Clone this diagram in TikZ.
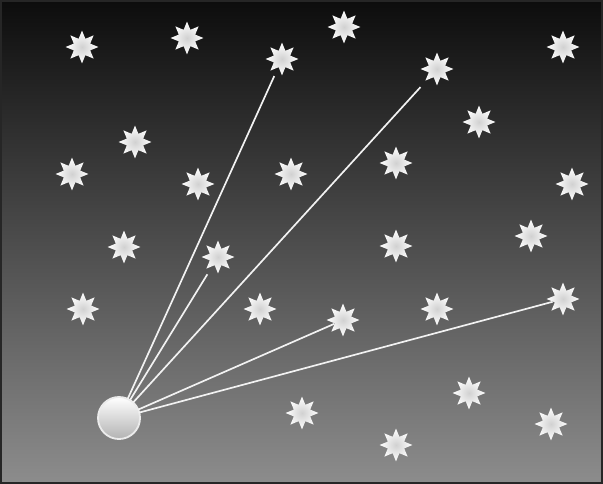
\documentclass[tikz,border=0pt]{standalone}
\usepackage{tikz}
\usetikzlibrary{shapes.geometric, arrows.meta, positioning}
\tikzset{
  sky/.style={draw=black!85, line width=1.2pt, top color=black!95, bottom color=black!45},
  sun/.style={star, star points=8, star point ratio=1.85, minimum size=0.82cm, inner sep=0pt, shading=radial, inner color=black!18, outer color=white},
  observer/.style={circle, minimum size=1.05cm, inner sep=0pt, draw=white!92!black, line width=1.3pt, top color=white, bottom color=black!30},
  ray/.style={draw=white!95!black, line width=1.2pt, shorten <=-1pt},
  farray/.style={ray, shorten >=6.5pt}
}

\begin{document}
\begin{tikzpicture}[x=0.025cm, y=-0.025cm]
    % Background
    \path[sky] (1,1) rectangle (602,483);
    \useasboundingbox (0,0) rectangle (603,484);

    % Nodes
    \node[sun] (s1) at (82,47) {};
    \node[sun] (s2) at (187,38) {};
    \node[sun] (s3) at (282,59) {};
    \node[sun] (s4) at (344,27) {};
    \node[sun] (s5) at (437,69) {};
    \node[sun] (s6) at (563,47) {};
    \node[sun] (s7) at (135,142) {};
    \node[sun] (s8) at (479,122) {};
    \node[sun] (s9) at (72,174) {};
    \node[sun] (s10) at (198,184) {};
    \node[sun] (s11) at (291,174) {};
    \node[sun] (s12) at (396,163) {};
    \node[sun] (s13) at (572,184) {};
    \node[sun] (s14) at (124,247) {};
    \node[sun] (s15) at (218,257) {};
    \node[sun] (s16) at (396,246) {};
    \node[sun] (s17) at (531,236) {};
    \node[sun] (s18) at (83,309) {};
    \node[sun] (s19) at (260,309) {};
    \node[sun] (s20) at (343,320) {};
    \node[sun] (s21) at (437,309) {};
    \node[sun] (s22) at (563,299) {};
    \node[sun] (s23) at (469,393) {};
    \node[sun] (s24) at (302,413) {};
    \node[sun] (s25) at (396,445) {};
    \node[sun] (s26) at (551,424) {};
    \node[observer] (eye) at (119,418) {};

    % Rays
    \draw[farray] (eye) -- (s3);
    \draw[farray] (eye) -- (s5);
    \draw[farray] (eye) -- (s15);
    \draw[ray] (eye) -- (s20);
    \draw[ray] (eye) -- (s22);
\end{tikzpicture}
\end{document}
